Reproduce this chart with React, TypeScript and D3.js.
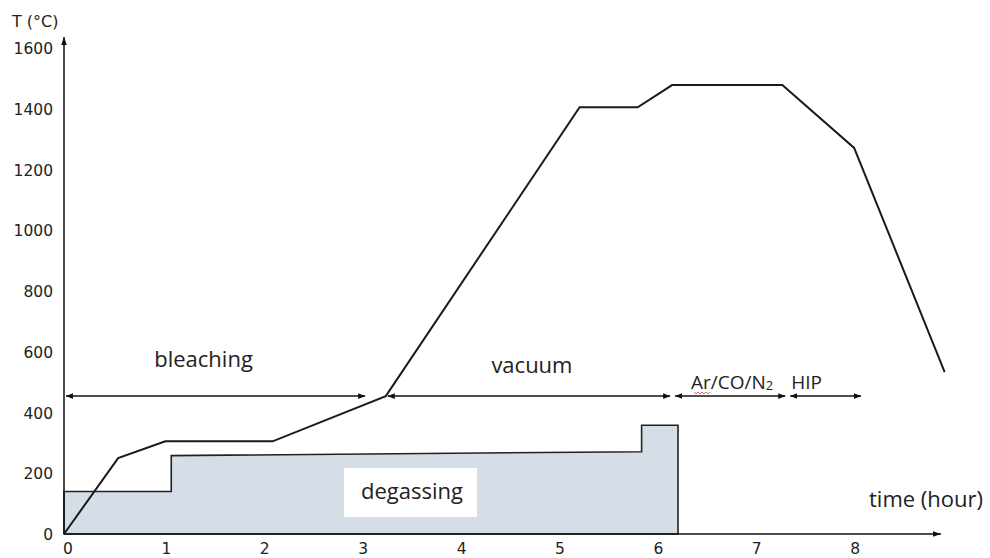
import React, { useRef, useEffect } from 'react';
import * as d3 from 'd3';

// temperature profile (time in hours, T in °C)
const tempTime = [0, 0.55, 1.03, 2.12, 3.27, 5.24, 5.83, 6.18, 7.3, 8.03, 8.95];
const tempValue = [0, 250, 305, 305, 454, 1405, 1405, 1478, 1478, 1271, 533];

// degassing area (step outline)
const degasTime = [0, 1.09, 1.09, 5.87, 5.87, 6.24];
const degasValue = [140, 140, 258, 271, 358, 358];

// process phases shown with double arrows
const phaseNames = ['bleaching', 'vacuum', 'Ar/CO/N', 'HIP'];
const phaseStart = [0.02, 3.29, 6.21, 7.38];
const phaseEnd = [3.06, 6.16, 7.33, 8.1];
const phaseLevel = 454;

const xTicks = [0, 1, 2, 3, 4, 5, 6, 7, 8];
const yTicks = [0, 200, 400, 600, 800, 1000, 1200, 1400, 1600];

const App = () => {
  const ref = useRef<SVGSVGElement>(null);

  useEffect(() => {
    const width = 990;
    const height = 558;
    const svg = d3.select(ref.current);
    svg.selectAll('*').remove();
    svg.attr('width', width).attr('height', height);

    const x = d3.scaleLinear().domain([0, 9]).range([64, 64 + 9 * 98.4]);
    const y = d3.scaleLinear().domain([0, 1600]).range([534, 48]);

    const defs = svg.append('defs');
    defs.append('marker')
      .attr('id', 'arr')
      .attr('viewBox', '0 0 10 10')
      .attr('refX', 10).attr('refY', 5)
      .attr('markerWidth', 7).attr('markerHeight', 7)
      .attr('markerUnits', 'userSpaceOnUse')
      .attr('orient', 'auto-start-reverse')
      .append('path')
      .attr('d', 'M0,1 L10,5 L0,9 Z')
      .attr('fill', '#111');
    defs.append('marker')
      .attr('id', 'axarr')
      .attr('viewBox', '0 0 10 10')
      .attr('refX', 10).attr('refY', 5)
      .attr('markerWidth', 8).attr('markerHeight', 8)
      .attr('markerUnits', 'userSpaceOnUse')
      .attr('orient', 'auto')
      .append('path')
      .attr('d', 'M0,1.5 L10,5 L0,8.5 Z')
      .attr('fill', '#111');

    svg.append('rect').attr('width', width).attr('height', height).attr('fill', '#fff');

    // degassing area
    const pts = degasTime.map((t, i) => [t, degasValue[i]] as [number, number]);
    const area = d3.area<[number, number]>()
      .x(d => x(d[0]))
      .y0(y(0))
      .y1(d => y(d[1]));
    svg.append('path')
      .attr('d', area(pts))
      .attr('fill', '#d5dee6')
      .attr('stroke', '#222')
      .attr('stroke-width', 1.6);

    // white label box
    svg.append('rect')
      .attr('x', 344).attr('y', 468)
      .attr('width', 133).attr('height', 49)
      .attr('fill', '#fff');
    svg.append('text')
      .attr('x', 412).attr('y', 499)
      .attr('text-anchor', 'middle')
      .attr('font-family', 'Open Sans')
      .attr('font-size', 22)
      .attr('fill', '#222')
      .text('degassing');

    // axes
    svg.append('line')
      .attr('x1', x(0)).attr('y1', y(0))
      .attr('x2', 941).attr('y2', y(0))
      .attr('stroke', '#111').attr('stroke-width', 1.5)
      .attr('marker-end', 'url(#axarr)');
    svg.append('line')
      .attr('x1', x(0)).attr('y1', y(0))
      .attr('x2', x(0)).attr('y2', 37)
      .attr('stroke', '#111').attr('stroke-width', 1.5)
      .attr('marker-end', 'url(#axarr)');

    svg.append('g')
      .selectAll('text')
      .data(xTicks)
      .join('text')
      .attr('x', d => x(d) + 4)
      .attr('y', 554)
      .attr('text-anchor', 'middle')
      .attr('font-family', 'DejaVu Sans')
      .attr('font-size', 15.5)
      .attr('fill', '#222')
      .text(d => d);

    svg.append('g')
      .selectAll('text')
      .data(yTicks)
      .join('text')
      .attr('x', 53)
      .attr('y', d => y(d) + 6)
      .attr('text-anchor', 'end')
      .attr('font-family', 'DejaVu Sans')
      .attr('font-size', 15.5)
      .attr('fill', '#222')
      .text(d => d);

    svg.append('text')
      .attr('x', 12).attr('y', 27)
      .attr('font-family', 'DejaVu Sans')
      .attr('font-size', 16)
      .attr('fill', '#222')
      .text('T (°C)');

    svg.append('text')
      .attr('x', 926).attr('y', 507)
      .attr('text-anchor', 'middle')
      .attr('font-family', 'Open Sans')
      .attr('font-size', 22)
      .attr('fill', '#222')
      .text('time (hour)');

    // temperature line
    const line = d3.line<number>()
      .x((_, i) => x(tempTime[i]))
      .y(d => y(d));
    svg.append('path')
      .attr('d', line(tempValue))
      .attr('fill', 'none')
      .attr('stroke', '#1a1a1a')
      .attr('stroke-width', 2);

    // phase arrows
    svg.append('g')
      .selectAll('line')
      .data(phaseNames)
      .join('line')
      .attr('x1', (_, i) => x(phaseStart[i]))
      .attr('x2', (_, i) => x(phaseEnd[i]))
      .attr('y1', y(phaseLevel))
      .attr('y2', y(phaseLevel))
      .attr('stroke', '#111')
      .attr('stroke-width', 1.5)
      .attr('marker-start', 'url(#arr)')
      .attr('marker-end', 'url(#arr)');

    const labelDx = [-12, 3, 2, -19];
    const labelY = [367, 373, 389, 389];
    const labelSize = [22, 22, 19, 19];
    const labels = svg.append('g')
      .selectAll('text')
      .data(phaseNames)
      .join('text')
      .attr('x', (_, i) => (x(phaseStart[i]) + x(phaseEnd[i])) / 2 + labelDx[i])
      .attr('y', (_, i) => labelY[i])
      .attr('text-anchor', 'middle')
      .attr('font-family', 'Open Sans')
      .attr('font-size', (_, i) => labelSize[i])
      .attr('fill', '#222')
      .text(d => d);
    labels.filter(d => d === 'Ar/CO/N')
      .append('tspan')
      .attr('font-size', 13)
      .attr('dy', 1)
      .text('2');

    // spell-check squiggle under "Ar"
    const sq: [number, number][] = d3.range(0, 9).map(k => [694 + k * 2, k % 2 ? 394 : 392]);
    svg.append('path')
      .attr('d', d3.line()(sq))
      .attr('fill', 'none')
      .attr('stroke', '#d33')
      .attr('stroke-width', 0.8);
  }, []);

  return (
    <svg ref={ref} style={{ position: 'absolute', left: 0, top: 0 }}></svg>
  );
};

export default App;
